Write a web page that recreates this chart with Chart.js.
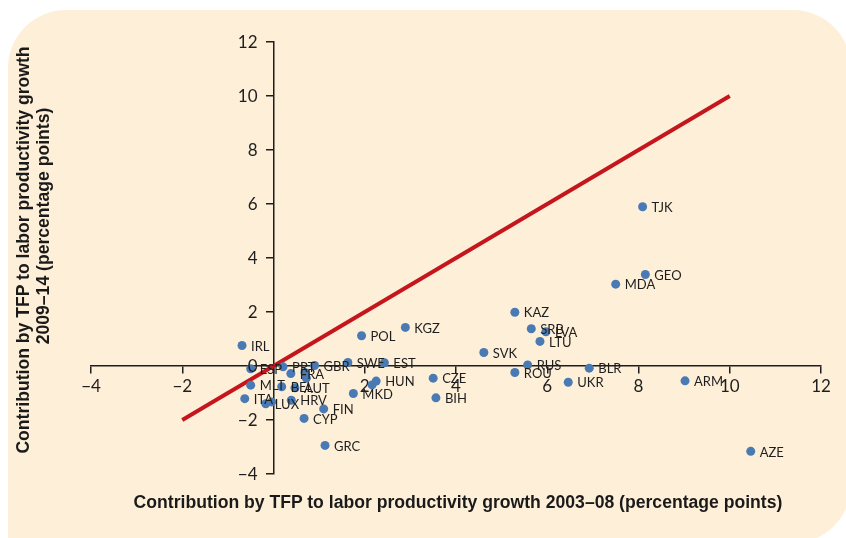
<!DOCTYPE html>
<html>
<head>
<meta charset="utf-8">
<script src="https://cdn.jsdelivr.net/npm/chart.js@4.4.1/dist/chart.umd.min.js"></script>
<style>
  html, body { margin: 0; padding: 0; background: #fff; }
  #wrap { position: relative; width: 846px; height: 538px; overflow: hidden; }
  #panel {
    position: absolute; left: 8px; top: 10px; width: 843px; height: 533px;
    background: #feefd8; border-radius: 58px 58px 58px 0;
  }
  #chart { position: absolute; left: 0; top: 0; }
  .axis-title {
    position: absolute; font-family: "Liberation Sans", Arial, sans-serif;
    font-weight: bold; font-size: 17.6px; color: #1a1a1a; white-space: nowrap;
  }
  .ytitle { transform: translate(-50%, -50%) rotate(-90deg); }
  .xtitle { transform: translate(-50%, -50%); }
</style>
</head>
<body>
<div id="wrap">
  <div id="panel"></div>
  <canvas id="chart" width="846" height="538"></canvas>
  <div class="axis-title ytitle" style="left:23px; top:250px;">Contribution by TFP to labor productivity growth</div>
  <div class="axis-title ytitle" style="left:43px; top:226px;">2009–14 (percentage points)</div>
  <div class="axis-title xtitle" style="left:458px; top:502px;">Contribution by TFP to labor productivity growth 2003–08 (percentage points)</div>
</div>
<script>
// country codes ('' = unlabelled dot)
const countries = [
  "IRL", "ESP", "PRT", "GBR", "FRA", "", "", "SWE", "EST", "MLT",
  "BEL", "AUT", "ITA", "LUX", "", "HRV", "FIN", "CYP", "GRC", "POL",
  "KGZ", "HUN", "", "MKD", "CZE", "BIH", "KAZ", "SRB", "LVA", "LTU",
  "SVK", "RUS", "ROU", "BLR", "UKR", "TJK", "GEO", "MDA", "ARM", "AZE",
];
// TFP contribution 2003-08
const tfp0308 = [
  -0.69, -0.5, 0.21, 0.9, 0.38, 0.69, 0.72, 1.63, 2.43, -0.5,
  0.18, 0.47, -0.63, -0.17, -0.04, 0.39, 1.1, 0.67, 1.13, 1.93,
  2.89, 2.25, 2.16, 1.75, 3.5, 3.56, 5.29, 5.65, 5.97, 5.84,
  4.61, 5.57, 5.29, 6.92, 6.46, 8.09, 8.15, 7.5, 9.02, 10.46,
];
// TFP contribution 2009-14
const tfp0914 = [
  0.76, -0.1, -0.03, 0.02, -0.28, -0.24, -0.45, 0.13, 0.12, -0.71,
  -0.77, -0.81, -1.21, -1.4, -1.33, -1.27, -1.59, -1.94, -2.94, 1.12,
  1.43, -0.56, -0.7, -1.02, -0.45, -1.18, 1.99, 1.38, 1.27, 0.91,
  0.5, 0.04, -0.24, -0.08, -0.6, 5.9, 3.39, 3.03, -0.55, -3.16,
];
// 45-degree reference line
const lineX = [-2, 10];
const lineY = [-2, 10];
const axisTicks = [-4, -2, 0, 2, 4, 6, 8, 10, 12];

const points = countries.map((c, i) => ({ x: tfp0308[i], y: tfp0914[i], label: c }));
const tickFont = '17px Lato, "Open Sans", sans-serif';
const fmt = (v) => String(v).replace("-", "\u2212");

// country codes next to the dots + y tick labels left of the crossing axis
const labelsPlugin = {
  id: "labelsPlugin",
  afterDatasetsDraw(chart) {
    const ctx = chart.ctx;
    const meta = chart.getDatasetMeta(1);
    ctx.save();
    ctx.font = '13px Lato, "Open Sans", sans-serif';
    ctx.fillStyle = "#1e1e1e";
    ctx.textBaseline = "middle";
    meta.data.forEach((el, i) => {
      const txt = points[i].label;
      if (txt) ctx.fillText(txt, el.x + 9, el.y + 1);
    });

    const xs = chart.scales.x, ys = chart.scales.y;
    const axisX = xs.getPixelForValue(0);
    ctx.font = tickFont;
    ctx.textAlign = "right";
    axisTicks.forEach((v) => {
      ctx.fillText(fmt(v), axisX - 16, ys.getPixelForValue(v) + 1);
    });
    ctx.restore();
  },
};

new Chart(document.getElementById("chart"), {
  type: "scatter",
  data: {
    datasets: [
      {
        type: "line",
        data: lineX.map((x, i) => ({ x: x, y: lineY[i] })),
        borderColor: "#c4161c",
        borderWidth: 4,
        pointRadius: 0,
        fill: false,
        order: 2,
      },
      {
        data: points,
        backgroundColor: "#4a7ab4",
        borderWidth: 0,
        pointRadius: 4.5,
        order: 1,
      },
    ],
  },
  plugins: [labelsPlugin],
  options: {
    responsive: false,
    animation: false,
    layout: { padding: { left: 91, right: 25, top: 42, bottom: 64 } },
    plugins: { legend: { display: false }, tooltip: { enabled: false } },
    scales: {
      x: {
        type: "linear",
        min: -4,
        max: 12,
        position: { y: 0 },
        afterBuildTicks: (s) => { s.ticks = axisTicks.map((v) => ({ value: v })); },
        ticks: {
          font: { family: 'Lato, "Open Sans", sans-serif', size: 17 },
          color: "#1e1e1e",
          padding: 3,
          callback: (v) => (v === 0 ? "" : fmt(v)),
        },
        grid: { drawOnChartArea: false, drawTicks: true, tickLength: 7, color: "#1e1e1e", lineWidth: 1.5 },
        border: { display: true, color: "#1e1e1e", width: 1.5 },
      },
      y: {
        type: "linear",
        min: -4,
        max: 12,
        position: { x: 0 },
        afterBuildTicks: (s) => { s.ticks = axisTicks.map((v) => ({ value: v })); },
        ticks: { display: false },
        grid: { drawOnChartArea: false, drawTicks: true, tickLength: 7, color: "#1e1e1e", lineWidth: 1.5 },
        border: { display: true, color: "#1e1e1e", width: 1.5 },
      },
    },
  },
});
</script>
</body>
</html>
